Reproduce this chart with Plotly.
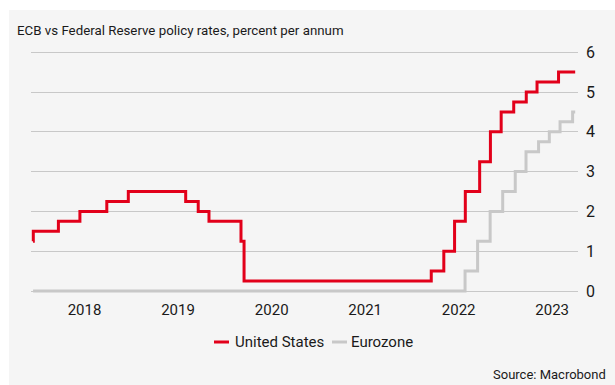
import plotly.graph_objects as go

# Federal Reserve: upper bound of the fed funds target range (%), step changes
us_dates = [
    "2017-12-13", "2017-12-14", "2018-03-22", "2018-06-14", "2018-09-27",
    "2018-12-20", "2019-08-01", "2019-09-19", "2019-10-31", "2020-03-04",
    "2020-03-16", "2022-03-17", "2022-05-05", "2022-06-16", "2022-07-28",
    "2022-09-22", "2022-11-03", "2022-12-15", "2023-02-02", "2023-03-23",
    "2023-05-04", "2023-07-27", "2023-09-30",
]
us_rates = [
    1.25, 1.50, 1.75, 2.00, 2.25,
    2.50, 2.25, 2.00, 1.75, 1.25,
    0.25, 0.50, 1.00, 1.75, 2.50,
    3.25, 4.00, 4.50, 4.75, 5.00,
    5.25, 5.50, 5.50,
]

# ECB: main refinancing operations rate (%), step changes
ez_dates = [
    "2017-12-13", "2022-07-27", "2022-09-14", "2022-11-02", "2022-12-21",
    "2023-02-08", "2023-03-22", "2023-05-10", "2023-06-21", "2023-08-02",
    "2023-09-20", "2023-09-30",
]
ez_rates = [
    0.00, 0.50, 1.25, 2.00, 2.50,
    3.00, 3.50, 3.75, 4.00, 4.25,
    4.50, 4.50,
]

years = [2018, 2019, 2020, 2021, 2022, 2023]
year_ticks = [f"{y}-07-02" for y in years]
year_labels = [str(y) for y in years]
y_ticks = [0, 1, 2, 3, 4, 5, 6]

RED = "#e2001a"
GREY = "#c8c8c8"
BG = "#f5f5f5"
FONT = "Roboto"
TEXT = "#1a1a1a"

W, H = 615, 385
ML, MR, MT, MB = 31, 37, 51, 90


def px_x(px):
    return (px - ML) / (W - ML - MR)


def px_y(py):
    return (H - MB - py) / (H - MT - MB)


fig = go.Figure()
fig.add_trace(go.Scatter(
    x=ez_dates, y=ez_rates, mode="lines", name="Eurozone",
    line=dict(color=GREY, width=3, shape="hv"), showlegend=False,
))
fig.add_trace(go.Scatter(
    x=us_dates, y=us_rates, mode="lines", name="United States",
    line=dict(color=RED, width=3, shape="hv"), showlegend=False,
))

shapes = [
    # light panel with a thin white frame on the top and left
    dict(type="rect", xref="paper", yref="paper", layer="below",
         x0=px_x(9), x1=px_x(W + 5), y0=px_y(H + 5), y1=px_y(10),
         fillcolor=BG, line=dict(width=0)),
    # legend keys
    dict(type="line", xref="paper", yref="paper",
         x0=px_x(214), x1=px_x(229), y0=px_y(342), y1=px_y(342),
         line=dict(color=RED, width=3)),
    dict(type="line", xref="paper", yref="paper",
         x0=px_x(332), x1=px_x(347), y0=px_y(342), y1=px_y(342),
         line=dict(color=GREY, width=3)),
]

annotations = [
    dict(text="ECB vs Federal Reserve policy rates, percent per annum",
         xref="paper", yref="paper", x=px_x(15), y=px_y(31),
         xanchor="left", yanchor="middle", showarrow=False,
         font=dict(family=FONT, size=13.3, color=TEXT)),
    dict(text="United States", xref="paper", yref="paper",
         x=px_x(233), y=px_y(342), xanchor="left", yanchor="middle",
         showarrow=False, font=dict(family=FONT, size=15, color=TEXT)),
    dict(text="Eurozone", xref="paper", yref="paper",
         x=px_x(349), y=px_y(342), xanchor="left", yanchor="middle",
         showarrow=False, font=dict(family=FONT, size=15, color=TEXT)),
    dict(text="Source: Macrobond", xref="paper", yref="paper",
         x=px_x(608), y=px_y(374), xanchor="right", yanchor="middle",
         showarrow=False, font=dict(family=FONT, size=13, color=TEXT)),
]

fig.update_layout(
    width=W, height=H,
    margin=dict(l=ML, r=MR, t=MT, b=MB, pad=0),
    paper_bgcolor="white",
    plot_bgcolor="rgba(0,0,0,0)",
    shapes=shapes,
    annotations=annotations,
    showlegend=False,
    xaxis=dict(
        type="date", range=["2017-12-05", "2023-10-11"],
        tickvals=year_ticks, ticktext=year_labels,
        showgrid=False, zeroline=False, showline=False,
        ticks="", ticklabelstandoff=4,
        tickfont=dict(family=FONT, size=15, color=TEXT),
    ),
    yaxis=dict(
        side="right", range=[-0.1, 6.03],
        tickvals=y_ticks, showgrid=True, gridcolor=GREY, gridwidth=1,
        zeroline=False, showline=False, ticks="", ticklabelstandoff=7,
        tickfont=dict(family=FONT, size=16, color=TEXT),
    ),
)

fig.write_html("out.html")
